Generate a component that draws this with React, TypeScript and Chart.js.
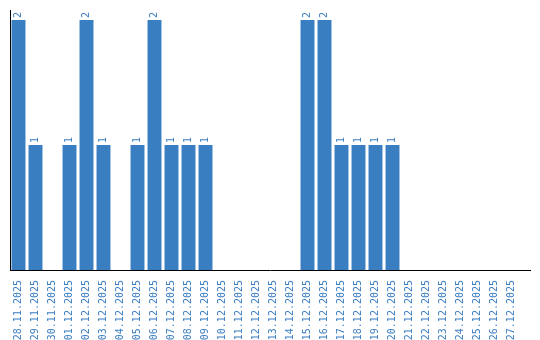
import React, { useEffect, useRef } from "react";
import { Chart, registerables } from "chart.js";

Chart.register(...registerables);

const categories = [
  "28.11.2025", "29.11.2025", "30.11.2025", "01.12.2025", "02.12.2025", "03.12.2025",
  "04.12.2025", "05.12.2025", "06.12.2025", "07.12.2025", "08.12.2025", "09.12.2025",
  "10.12.2025", "11.12.2025", "12.12.2025", "13.12.2025", "14.12.2025", "15.12.2025",
  "16.12.2025", "17.12.2025", "18.12.2025", "19.12.2025", "20.12.2025", "21.12.2025",
  "22.12.2025", "23.12.2025", "24.12.2025", "25.12.2025", "26.12.2025", "27.12.2025",
];
const values = [2, 1, 0, 1, 2, 1, 0, 1, 2, 1, 1, 1, 0, 0, 0, 0, 0, 2, 2, 1, 1, 1, 1, 0, 0, 0, 0, 0, 0, 0];

const BLUE = "#3a7ec2";
const FONT = "DejaVu Sans Mono";

const labelPlugin = {
  id: "valueLabels",
  afterDatasetsDraw(chart: any) {
    const ctx = chart.ctx;
    const meta = chart.getDatasetMeta(0);
    ctx.save();
    ctx.fillStyle = BLUE;
    ctx.font = `10px "${FONT}"`;
    ctx.textAlign = "left";
    ctx.textBaseline = "middle";
    meta.data.forEach((bar: any, i: number) => {
      const v = values[i];
      if (!v) return;
      ctx.save();
      ctx.translate(bar.x, bar.y - 2);
      ctx.rotate(-Math.PI / 2);
      ctx.fillText(String(v), 0, 0);
      ctx.restore();
    });
    // bottom axis line
    const a = chart.chartArea;
    ctx.strokeStyle = "#000";
    ctx.lineWidth = 1;
    ctx.beginPath();
    ctx.moveTo(a.left, Math.round(a.bottom) + 0.5);
    ctx.lineTo(a.right + 11, Math.round(a.bottom) + 0.5);
    ctx.stroke();
    ctx.restore();
  },
};

export default function App() {
  const ref = useRef<HTMLCanvasElement>(null);
  useEffect(() => {
    document.body.style.margin = "0";
    const chart = new Chart(ref.current!, {
      type: "bar",
      data: {
        labels: categories,
        datasets: [
          {
            data: values,
            backgroundColor: BLUE,
            borderWidth: 0,
            categoryPercentage: 1,
            barPercentage: 0.82,
          },
        ],
      },
      options: {
        animation: false,
        responsive: false,
        maintainAspectRatio: false,
        layout: { padding: { top: 10, right: 20, bottom: 0, left: 0 } },
        plugins: { legend: { display: false }, tooltip: { enabled: false } },
        scales: {
          x: {
            grid: { display: false },
            border: { display: false },
            ticks: {
              color: BLUE,
              font: { family: FONT, size: 10 },
              minRotation: 90,
              maxRotation: 90,
              autoSkip: false,
              padding: 2,
            },
            afterFit(scale: any) {
              scale.height = 70;
            },
          },
          y: {
            min: 0,
            max: 2.08,
            grid: { display: false },
            border: { display: true, color: "#000", width: 1 },
            ticks: { display: false },
            afterFit(scale: any) {
              scale.width = 10;
            },
          },
        },
      },
      plugins: [labelPlugin],
    });
    return () => chart.destroy();
  }, []);
  return (
    <div style={{ position: "absolute", left: 0, top: 0, width: 540, height: 340 }}>
      <canvas ref={ref} width={540} height={340} />
    </div>
  );
}
